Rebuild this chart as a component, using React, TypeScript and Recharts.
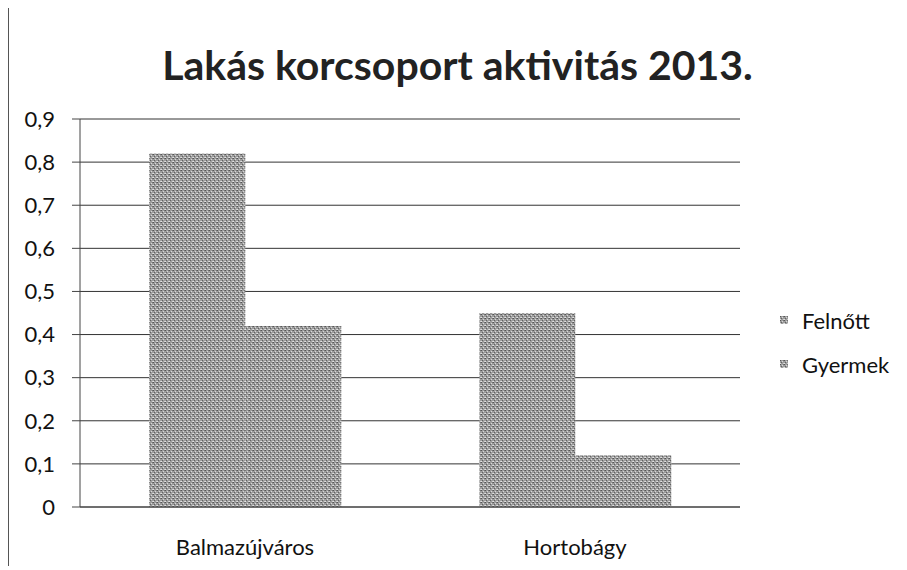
import { BarChart, Bar, XAxis, YAxis, CartesianGrid } from 'recharts';

const categories = ['Balmazújváros', 'Hortobágy'];
const seriesNames = ['Felnőtt', 'Gyermek'];
const felnott = [0.82, 0.45];
const gyermek = [0.42, 0.12];
const yTicks = [0, 0.1, 0.2, 0.3, 0.4, 0.5, 0.6, 0.7, 0.8, 0.9];

const data = categories.map((name, i) => ({
  name,
  [seriesNames[0]]: felnott[i],
  [seriesNames[1]]: gyermek[i],
}));

const FONT = 'Lato, "Open Sans", sans-serif';

export default function App() {
  return (
    <div
      style={{
        position: 'relative',
        width: 897,
        height: 560,
        marginTop: -3,
        borderLeft: '1px solid #555',
        borderTop: '1px solid #777',
        background: '#fff',
      }}
    >
      <div
        style={{
          position: 'absolute',
          left: 0,
          width: 897,
          top: 34,
          textAlign: 'center',
          fontFamily: FONT,
          fontWeight: 700,
          fontSize: 41,
          color: '#222',
        }}
      >
        Lakás korcsoport aktivitás 2013.
      </div>

      {/* legend: small grainy squares next to the series names */}
      <div style={{ position: 'absolute', left: 771, top: 292, fontFamily: FONT, fontSize: 22, color: '#111' }}>
        {seriesNames.map((n) => (
          <div key={n} style={{ display: 'flex', alignItems: 'center', height: 44 }}>
            <svg width={8} height={8} style={{ marginRight: 14 }}>
              <rect width={8} height={8} fill="url(#grain)" />
            </svg>
            {n}
          </div>
        ))}
      </div>

      <BarChart
        width={896}
        height={559}
        data={data}
        margin={{ top: 113, right: 165, left: 21, bottom: 28 }}
        barGap={0}
        barCategoryGap="21%"
      >
        <defs>
          <pattern id="grain" width={4} height={4} patternUnits="userSpaceOnUse">
            <rect width={4} height={4} fill="#9c9c9c" />
            <rect x={0} y={0} width={1} height={1} fill="#555" />
            <rect x={2} y={1} width={1} height={1} fill="#d8d8d8" />
            <rect x={1} y={2} width={1} height={1} fill="#626262" />
            <rect x={3} y={3} width={1} height={1} fill="#cfcfcf" />
            <rect x={3} y={0} width={1} height={1} fill="#727272" />
            <rect x={0} y={3} width={1} height={1} fill="#e2e2e2" />
          </pattern>
        </defs>
        <CartesianGrid vertical={false} stroke="#333" strokeWidth={1} />
        <XAxis
          dataKey="name"
          height={30}
          tick={{ fontFamily: FONT, fontSize: 22, fill: '#111' }}
          tickLine={false}
          axisLine={{ stroke: '#444' }}
          tickMargin={26}
        />
        <YAxis
          width={50}
          domain={[0, 0.9]}
          ticks={yTicks}
          interval={0}
          tick={{ fontFamily: FONT, fontSize: 22, fill: '#111' }}
          tickFormatter={(v) => String(v).replace('.', ',')}
          tickLine={{ stroke: '#444' }}
          tickSize={8}
          tickMargin={17}
          axisLine={{ stroke: '#444' }}
        />
        <Bar dataKey={seriesNames[0]} fill="url(#grain)" isAnimationActive={false} />
        <Bar dataKey={seriesNames[1]} fill="url(#grain)" isAnimationActive={false} />
      </BarChart>
    </div>
  );
}
